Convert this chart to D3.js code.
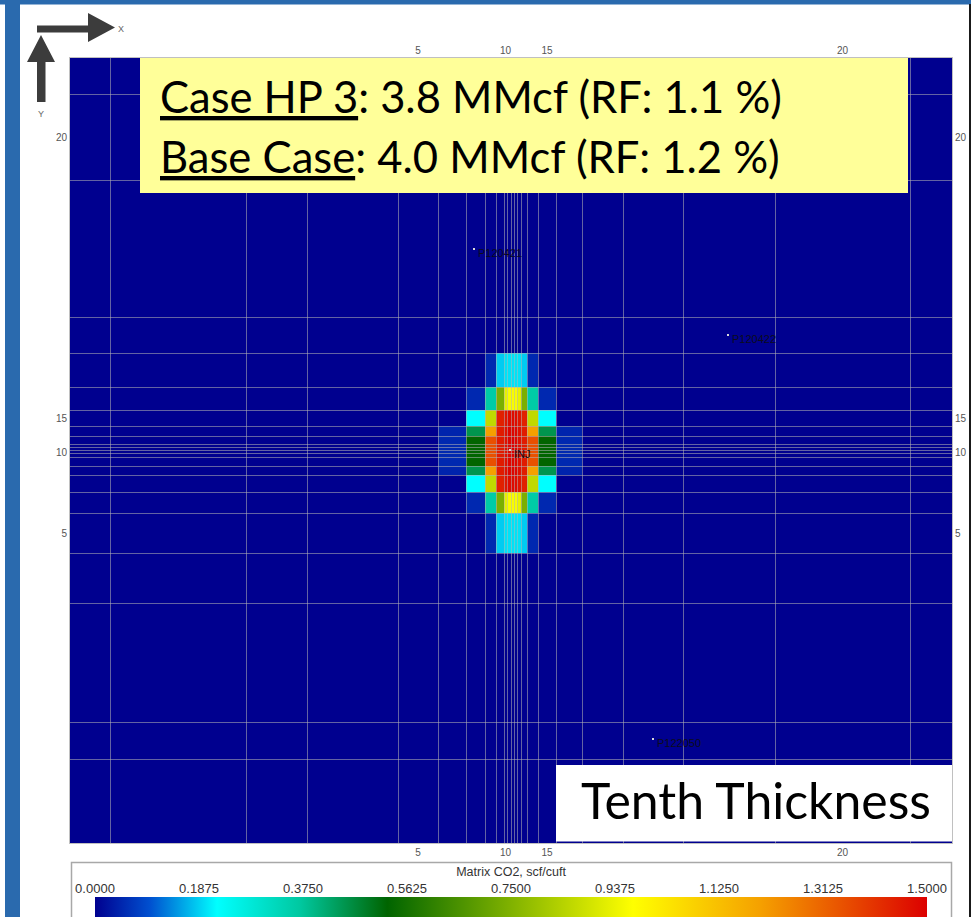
<!DOCTYPE html>
<html><head><meta charset="utf-8">
<script src="https://cdn.jsdelivr.net/npm/d3@7"></script>
<style>body{margin:0;background:#fff;} svg{display:block}</style>
</head><body>
<svg id="c" width="971" height="917"></svg>
<script>
// ---------------- DATA ----------------
// grid cell widths (ft), west -> east (centre cell locally refined)
const colWidthsFt = [400,1360,610,910,400,280,190,110,80,30,40,30,30,40,60,110,180,260,410,600,920,1350,420];
// grid cell heights (ft), north -> south
const rowHeightsFt = [360,860,1370,360,340,230,160,100,80,30,30,30,40,90,90,170,210,400,500,1190,370,840];
// grid index tick labels
const xTickLabels = ["5","10","15","20"];
const xTickCols = [4,9,16,21];
const yTickLabels = ["20","15","10","5"];
const yTickRows = [1,6,11,17];
// Matrix CO2 (scf/cuft) in the plume patch, all other cells 0
const patchRow0 = 4, patchCol0 = 5;
const co2Patch = [
 [0,0,0.05,0.185,0.2,0.2,0.2,0.2,0.2,0.185,0.05,0,0],
 [0,0.05,0.36,0.74,0.93,0.96,0.96,0.96,0.93,0.74,0.36,0.05,0],
 [0,0.22,0.86,1.44,1.46,1.48,1.48,1.48,1.46,1.44,0.86,0.22,0],
 [0.045,0.45,1.2,1.45,1.47,1.49,1.49,1.49,1.47,1.45,1.2,0.45,0.045],
 [0.05,0.53,1.35,1.45,1.47,1.49,1.5,1.49,1.47,1.45,1.35,0.53,0.05],
 [0.05,0.53,1.35,1.45,1.47,1.49,1.5,1.49,1.47,1.45,1.35,0.53,0.05],
 [0.05,0.53,1.35,1.45,1.47,1.49,1.5,1.49,1.47,1.45,1.35,0.53,0.05],
 [0.05,0.53,1.35,1.45,1.47,1.49,1.5,1.49,1.47,1.45,1.35,0.53,0.05],
 [0.05,0.53,1.35,1.45,1.47,1.49,1.5,1.49,1.47,1.45,1.35,0.53,0.05],
 [0.05,0.53,1.35,1.45,1.47,1.49,1.49,1.49,1.47,1.45,1.35,0.53,0.05],
 [0.045,0.45,1.2,1.45,1.47,1.49,1.49,1.49,1.47,1.45,1.2,0.45,0.045],
 [0,0.22,0.86,1.44,1.46,1.48,1.48,1.48,1.46,1.44,0.86,0.22,0],
 [0,0.05,0.36,0.74,0.93,0.96,0.96,0.96,0.93,0.74,0.36,0.05,0],
 [0,0,0.05,0.185,0.2,0.2,0.2,0.2,0.2,0.185,0.05,0,0]
];
// wells
const wellNames = ["P120421","P120422","P122050","INJ"];
const wellXFt = [4040,6580,5830,4400];
const wellYFt = [1910,2770,6810,3920];
// colour legend
const legendTitle = "Matrix CO2, scf/cuft";
const legendTicks = [0,0.1875,0.375,0.5625,0.75,0.9375,1.125,1.3125,1.5];
const cmapStops = [0,0.099,0.22,0.37,0.527,0.97,1.2,1.5];
const cmapColors = ["#00008f","#0050d0","#00ffff","#00c8a0","#006400","#ffff00","#f5a000","#dc0000"];
// annotation texts
const caseLabel = "Case HP 3", caseText = ": 3.8 MMcf (RF: 1.1 %)";
const baseLabel = "Base Case", baseText = ": 4.0 MMcf (RF: 1.2 %)";
const layerText = "Tenth Thickness";

// ---------------- DRAW ----------------
const svg = d3.select("#c");
const W = 971, H = 917;
const plot = {x0:70, x1:952, y0:58, y1:843};

// frame
svg.append("rect").attr("x",0).attr("y",0).attr("width",W).attr("height",H).attr("fill","#fff");
svg.append("rect").attr("x",0).attr("y",0).attr("width",W).attr("height",4.5).attr("fill","#2a6aae");
svg.append("rect").attr("x",5).attr("y",0).attr("width",15).attr("height",H).attr("fill","#2a6aae");
svg.append("rect").attr("x",969).attr("y",4).attr("width",2).attr("height",H).attr("fill","#1a1a1a");

const xEdges = [0]; colWidthsFt.forEach(w => xEdges.push(xEdges[xEdges.length-1]+w));
const yEdges = [0]; rowHeightsFt.forEach(h => yEdges.push(yEdges[yEdges.length-1]+h));
const x = d3.scaleLinear().domain([0, xEdges[xEdges.length-1]]).range([plot.x0, plot.x1]);
const y = d3.scaleLinear().domain([0, yEdges[yEdges.length-1]]).range([plot.y0, plot.y1]);
const color = d3.scaleLinear().domain(cmapStops).range(cmapColors).interpolate(d3.interpolateRgb).clamp(true);

const cells = [];
for (let r=0;r<rowHeightsFt.length;r++) for (let c=0;c<colWidthsFt.length;c++) {
  const pr = r-patchRow0, pc = c-patchCol0;
  let v = 0;
  if (pr>=0 && pr<co2Patch.length && pc>=0 && pc<co2Patch[0].length) v = co2Patch[pr][pc];
  cells.push({r,c,v});
}
const g = svg.append("g");
g.selectAll("rect.cell").data(cells).join("rect").attr("class","cell")
  .attr("x",d=>x(xEdges[d.c])).attr("y",d=>y(yEdges[d.r]))
  .attr("width",d=>x(xEdges[d.c+1])-x(xEdges[d.c])+0.3)
  .attr("height",d=>y(yEdges[d.r+1])-y(yEdges[d.r])+0.3)
  .attr("fill",d=>color(d.v)).attr("shape-rendering","crispEdges");
// grid lines
g.selectAll("line.vx").data(xEdges.slice(1,-1)).join("line")
  .attr("x1",d=>Math.round(x(d))+0.5).attr("x2",d=>Math.round(x(d))+0.5)
  .attr("y1",plot.y0).attr("y2",plot.y1)
  .attr("stroke","#b4b4b4").attr("stroke-opacity",0.55).attr("stroke-width",1);
g.selectAll("line.hy").data(yEdges.slice(1,-1)).join("line")
  .attr("y1",d=>Math.round(y(d))+0.5).attr("y2",d=>Math.round(y(d))+0.5)
  .attr("x1",plot.x0).attr("x2",plot.x1)
  .attr("stroke","#b4b4b4").attr("stroke-opacity",0.55).attr("stroke-width",1);
svg.append("rect").attr("x",plot.x0-0.5).attr("y",plot.y0-0.5).attr("width",plot.x1-plot.x0+1).attr("height",plot.y1-plot.y0+1)
  .attr("fill","none").attr("stroke","#c0c0c0").attr("stroke-width",1);

// wells
const wg = svg.append("g");
wellNames.forEach((n,i)=>{
  const px = x(wellXFt[i]), py = y(wellYFt[i]);
  wg.append("rect").attr("x",px-1).attr("y",py-1).attr("width",2).attr("height",2).attr("fill","#d8d8d8");
  wg.append("text").attr("x",px+4).attr("y",py+7.5).text(n)
    .attr("font-family","Liberation Sans, Arial, sans-serif").attr("font-size",11).attr("fill","#0c0c1c");
});

// tick labels
const colCentre = c => x((xEdges[c]+xEdges[c+1])/2);
const rowCentre = r => y((yEdges[r]+yEdges[r+1])/2);
const tf = {"font-family":"Liberation Sans, Arial, sans-serif","font-size":10,"fill":"#555"};
function style(sel,o){Object.entries(o).forEach(([k,v])=>sel.attr(k,v));return sel;}
xTickLabels.forEach((t,i)=>{
  style(svg.append("text").attr("x",colCentre(xTickCols[i])).attr("y",54).attr("text-anchor","middle").text(t),tf);
  style(svg.append("text").attr("x",colCentre(xTickCols[i])).attr("y",856).attr("text-anchor","middle").text(t),tf);
});
yTickLabels.forEach((t,i)=>{
  style(svg.append("text").attr("x",67).attr("y",rowCentre(yTickRows[i])+4).attr("text-anchor","end").text(t),tf);
  style(svg.append("text").attr("x",955).attr("y",rowCentre(yTickRows[i])+4).attr("text-anchor","start").text(t),tf);
});

// orientation arrows
const ac = "#3c3c3c";
svg.append("path").attr("d","M37,25.5 L88,25.5 L88,13 L115,27.5 L88,42 L88,32.5 L37,32.5 Z").attr("fill",ac);
svg.append("path").attr("d","M41,35 L55,62 L45.5,62 L45.5,102 L37,102 L37,62 L27,62 Z").attr("fill",ac);
style(svg.append("text").attr("x",118).attr("y",32).text("X"),{...tf,"font-size":9,"fill":"#666"});
style(svg.append("text").attr("x",41).attr("y",117).attr("text-anchor","middle").text("Y"),{...tf,"font-size":9,"fill":"#666"});

// yellow annotation box
svg.append("rect").attr("x",140).attr("y",58).attr("width",768).attr("height",135).attr("fill","#ffff99");
const bigFont = "Lato, 'Open Sans', sans-serif";
function fitLine(yb, lab, rest, targetW){
  const t = svg.append("text").attr("x",160).attr("y",yb).attr("font-family",bigFont).attr("font-size",40).attr("fill","#000");
  t.append("tspan").attr("text-decoration","underline").text(lab);
  t.append("tspan").text(rest);
  const w = t.node().getComputedTextLength();
  t.attr("font-size",40*targetW/w);
}
fitLine(113, caseLabel, caseText, 622);
fitLine(173, baseLabel, baseText, 620);

// layer box
svg.append("rect").attr("x",556).attr("y",765).attr("width",396).attr("height",76.5).attr("fill","#fff");
const lt = svg.append("text").attr("x",581).attr("y",819).attr("font-family",bigFont).attr("font-size",40).attr("fill","#000").text(layerText);
lt.attr("font-size",40*350/lt.node().getComputedTextLength());

// colour legend
svg.append("rect").attr("x",71.5).attr("y",862.5).attr("width",880).attr("height",80).attr("fill","#fff").attr("stroke","#a8a8a8").attr("stroke-width",1.5);
const lx = d3.scaleLinear().domain([0,1.5]).range([95,927]);
const defs = svg.append("defs");
const grad = defs.append("linearGradient").attr("id","cg").attr("x1","0%").attr("x2","100%");
cmapStops.forEach((s,i)=>grad.append("stop").attr("offset",(s/1.5*100)+"%").attr("stop-color",cmapColors[i]));
svg.append("rect").attr("x",lx(0)).attr("y",897).attr("width",lx(1.5)-lx(0)).attr("height",30).attr("fill","url(#cg)");
style(svg.append("text").attr("x",lx(0.75)).attr("y",876).attr("text-anchor","middle").text(legendTitle),{...tf,"font-size":12.5,"fill":"#333"});
legendTicks.forEach(v=>{
  style(svg.append("text").attr("x",lx(v)).attr("y",893).attr("text-anchor","middle").text(d3.format(".4f")(v)),{...tf,"font-size":13,"fill":"#333"});
});
</script>
</body></html>
